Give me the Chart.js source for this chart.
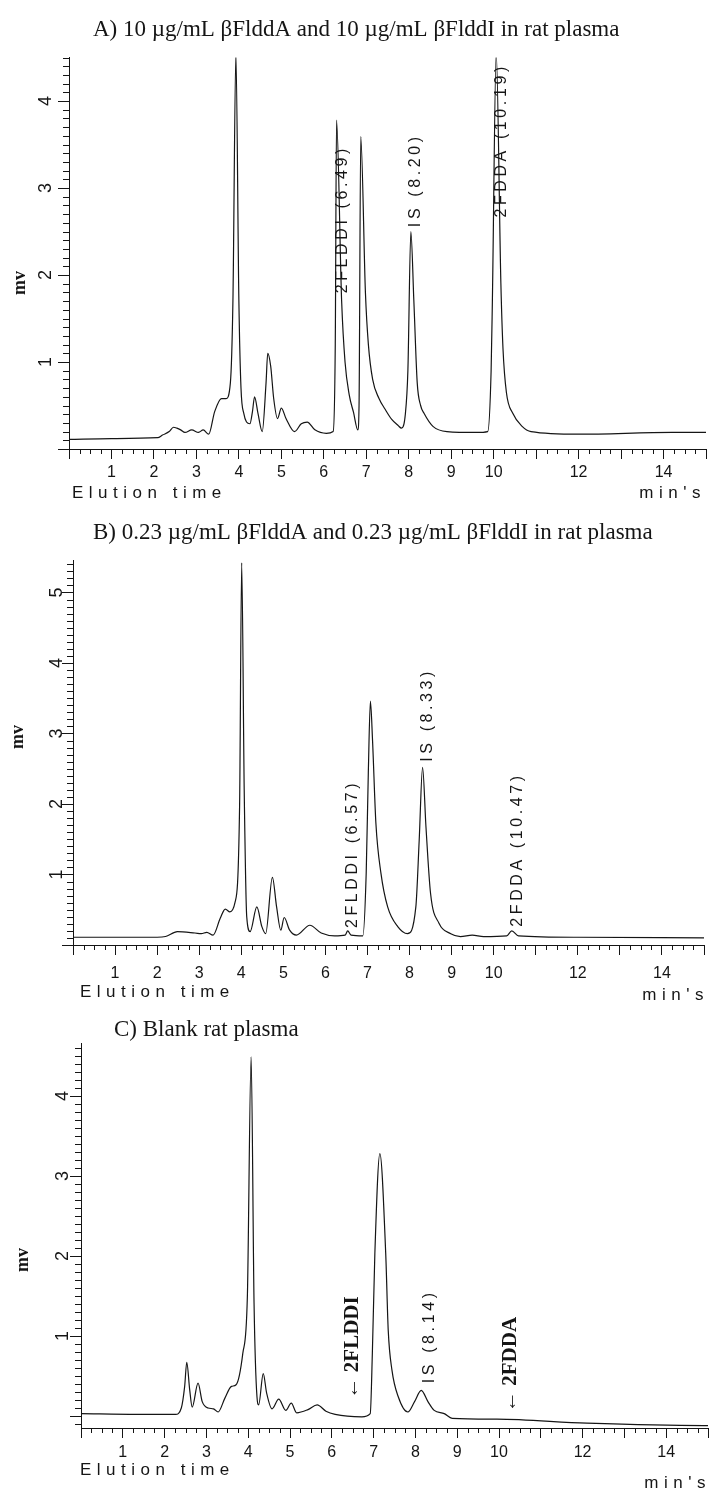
<!DOCTYPE html>
<html>
<head>
<meta charset="utf-8">
<script src="https://cdn.jsdelivr.net/npm/chart.js@4.4.1/dist/chart.umd.min.js"></script>
<style>
  html, body { margin: 0; padding: 0; background: #fff; }
  #wrap { position: relative; width: 713px; height: 1491px; }
  canvas { position: absolute; left: 0; }
</style>
</head>
<body>
<div id="wrap">
  <canvas id="chartA" width="713" height="510" style="top:0px"></canvas>
  <canvas id="chartB" width="713" height="500" style="top:510px"></canvas>
  <canvas id="chartC" width="713" height="481" style="top:1010px"></canvas>
</div>
<script>
// tick labels
const xTickLabels = [1, 2, 3, 4, 5, 6, 7, 8, 9, 10, 12, 14];
const yTicksA = [1, 2, 3, 4];
const yTicksB = [1, 2, 3, 4, 5];
const yTicksC = [1, 2, 3, 4];

// A) 10 ug/mL - elution time (min) / signal (mV)
const timeA = [0, 1, 2.09, 2.2, 2.36, 2.46, 2.54, 2.63, 2.73, 2.89, 3.05, 3.16, 3.29, 3.43, 3.59, 3.7, 3.8, 3.86, 3.93, 4.0,
  4.05, 4.12, 4.18, 4.26, 4.32, 4.37, 4.45, 4.55, 4.64, 4.68, 4.75, 4.82, 4.91, 5.0, 5.11, 5.31, 5.47, 5.61, 5.79, 6.06,
  6.22, 6.27, 6.3, 6.42, 6.5, 6.6, 6.7, 6.8, 6.83, 6.87, 6.98, 7.05, 7.15, 7.3, 7.44, 7.6, 7.75, 7.83, 7.92, 7.98,
  8.05, 8.12, 8.2, 8.28, 8.36, 8.57, 8.9, 9.6, 9.86, 9.94, 9.97, 10.06, 10.17, 10.22, 10.3, 10.45, 10.67, 10.88, 12, 14.2, 15];
const mvA = [0.11, 0.12, 0.13, 0.16, 0.2, 0.25, 0.24, 0.22, 0.19, 0.22, 0.19, 0.22, 0.17, 0.43, 0.58, 0.58, 0.76, 1.7, 4.55, 1.71,
  0.7, 0.4, 0.31, 0.29, 0.43, 0.6, 0.41, 0.2, 0.76, 1.1, 0.95, 0.58, 0.35, 0.47, 0.35, 0.2, 0.29, 0.31, 0.22, 0.18,
  0.2, 1.2, 3.78, 1.7, 1.0, 0.62, 0.42, 0.22, 0.5, 3.59, 1.8, 1.2, 0.8, 0.58, 0.46, 0.34, 0.27, 0.24, 0.4, 0.9,
  2.5, 1.71, 0.76, 0.5, 0.41, 0.26, 0.2, 0.19, 0.2, 0.9, 1.71, 4.55, 1.9, 1.15, 0.65, 0.41, 0.26, 0.2, 0.17, 0.19, 0.19];

// B) 0.23 ug/mL
const timeB = [0, 2, 2.2, 2.48, 2.9, 3.05, 3.18, 3.33, 3.5, 3.62, 3.73, 3.85, 3.96, 4.01, 4.07, 4.13, 4.21, 4.37, 4.49, 4.58,
  4.74, 4.84, 4.94, 5.02, 5.15, 5.31, 5.63, 5.9, 6.22, 6.47, 6.53, 6.61, 6.89, 6.97, 7.02, 7.07, 7.12, 7.2, 7.32, 7.48,
  7.72, 7.95, 8.15, 8.23, 8.31, 8.39, 8.5, 8.7, 8.98, 9.21, 9.49, 9.76, 10.31, 10.43, 10.59, 12, 15];
const mvB = [0.11, 0.11, 0.12, 0.19, 0.17, 0.16, 0.18, 0.14, 0.38, 0.51, 0.47, 0.6, 1.96, 5.42, 2.2, 0.4, 0.19, 0.54, 0.26, 0.16,
  0.96, 0.54, 0.21, 0.39, 0.21, 0.14, 0.28, 0.17, 0.13, 0.14, 0.2, 0.14, 0.13, 1.02, 2.44, 3.46, 2.91, 1.73, 1.02, 0.54,
  0.26, 0.16, 0.54, 1.49, 2.52, 1.68, 0.73, 0.31, 0.16, 0.12, 0.14, 0.12, 0.13, 0.2, 0.13, 0.11, 0.1];

// C) blank plasma
const timeC = [0, 1.34, 2.26, 2.4, 2.48, 2.53, 2.6, 2.66, 2.8, 2.9, 3.04, 3.17, 3.28, 3.44, 3.6, 3.71, 3.87, 3.98, 4.07, 4.14,
  4.21, 4.25, 4.36, 4.44, 4.57, 4.73, 4.9, 5.03, 5.16, 5.43, 5.65, 5.86, 6.08, 6.72, 6.92, 6.97, 7.03, 7.15, 7.29, 7.35,
  7.44, 7.59, 7.82, 7.98, 8.14, 8.3, 8.45, 8.69, 8.88, 9.95, 12.1, 14.9, 15];
const mvC = [0.03, 0.02, 0.02, 0.1, 0.37, 0.67, 0.33, 0.11, 0.41, 0.18, 0.1, 0.09, 0.05, 0.22, 0.37, 0.39, 0.78, 1.49, 4.49, 1.41,
  0.24, 0.14, 0.53, 0.29, 0.09, 0.21, 0.07, 0.16, 0.04, 0.08, 0.14, 0.06, 0.02, -0.01, 0.03, 0.78, 2.03, 3.28, 2.03, 1.07,
  0.57, 0.24, 0.05, 0.18, 0.32, 0.18, 0.07, 0.03, -0.03, -0.04, -0.09, -0.12, -0.12];

const peakNamesA = ["2FLDDI (6.49)", "IS (8.20)", "2FDDA (10.19)"];
const peakNamesB = ["2FLDDI (6.57)", "IS (8.33)", "2FDDA (10.47)"];
const peakNamesC = ["\u2190 2FLDDI", "IS (8.14)", "\u2190 2FDDA"];

const INK = "#151515";
const plotFont = "Liberation Sans";

function rotText(ctx, text, x, y, font, spacing, align) {
  ctx.save();
  ctx.translate(x, y);
  ctx.rotate(-Math.PI / 2);
  ctx.font = font;
  ctx.letterSpacing = spacing + "px";
  ctx.textAlign = align;
  ctx.textBaseline = "middle";
  ctx.fillText(text, 0, 0);
  ctx.restore();
}

const decoPlugin = {
  id: "deco",
  afterDraw(chart, args, o) {
    const ctx = chart.ctx;
    const xs = chart.scales.x;
    const ys = chart.scales.y;
    const area = chart.chartArea;
    ctx.save();
    ctx.strokeStyle = INK;
    ctx.fillStyle = INK;
    ctx.lineWidth = 1;

    // minor ticks
    ctx.beginPath();
    for (let i = 1; i < 60; i++) {
      if (i % 4 === 0) continue;
      const px = Math.round(xs.getPixelForValue(i / 4)) + 0.5;
      ctx.moveTo(px, area.bottom);
      ctx.lineTo(px, area.bottom + 5);
    }
    for (let k = Math.ceil(ys.min * 10); k <= Math.floor(ys.max * 10); k++) {
      if (k % 10 === 0) continue;
      const py = Math.round(ys.getPixelForValue(k / 10)) + 0.5;
      ctx.moveTo(area.left - 6, py);
      ctx.lineTo(area.left, py);
    }
    ctx.stroke();

    // rotated y tick labels
    o.yTicks.forEach((v) => {
      rotText(ctx, String(v), area.left - o.yLabelGap, ys.getPixelForValue(v), "18px " + plotFont, 0, "center");
    });

    // peak labels
    o.peaks.forEach((p, i) => {
      const font = p.bold ? "bold 21px 'Liberation Serif'" : "16px " + plotFont;
      rotText(ctx, o.names[i], xs.getPixelForValue(p.t), ys.getPixelForValue(p.v), font, p.bold ? 0 : 3.6, "left");
    });

    // titles and axis captions
    ctx.font = "23px 'Liberation Serif'";
    ctx.letterSpacing = "0px";
    ctx.textAlign = "left";
    ctx.textBaseline = "middle";
    ctx.fillText(o.title, o.titleX, o.titleY);
    rotText(ctx, "mv", o.mvX, o.mvY, "bold 18px 'Liberation Serif'", 0, "center");
    ctx.font = "17px " + plotFont;
    ctx.letterSpacing = "5.5px";
    ctx.textAlign = "left";
    ctx.fillText("Elution time", o.elX, o.elY);
    ctx.textAlign = "right";
    ctx.fillText("min's", o.minsX, o.minsY);
    ctx.restore();
  },
};

function makePanel(id, time, mv, p) {
  new Chart(document.getElementById(id), {
    type: "line",
    data: {
      datasets: [
        {
          data: time.map((t, i) => ({ x: t, y: mv[i] })),
          borderColor: INK,
          borderWidth: 1.2,
          pointRadius: 0,
          fill: false,
          cubicInterpolationMode: "monotone",
        },
      ],
    },
    options: {
      responsive: false,
      animation: false,
      devicePixelRatio: 1,
      layout: { padding: { top: p.top, right: p.right, left: 0, bottom: 0 } },
      plugins: {
        legend: { display: false },
        tooltip: { enabled: false },
        deco: p.deco,
      },
      scales: {
        x: {
          type: "linear",
          min: 0,
          max: 15,
          afterBuildTicks: (s) => {
            s.ticks = [0, 1, 2, 3, 4, 5, 6, 7, 8, 9, 10, 11, 12, 13, 14, 15].map((v) => ({ value: v }));
          },
          ticks: {
            autoSkip: false,
            maxRotation: 0,
            padding: p.tickPad,
            color: INK,
            font: { family: plotFont, size: 16 },
            callback: (v) => (xTickLabels.includes(v) ? String(v) : ""),
          },
          grid: { drawOnChartArea: false, tickLength: 10, color: INK },
          border: { color: INK, width: 1 },
          afterFit: (s) => {
            s.height = p.xAxisH;
          },
        },
        y: {
          min: p.yMin,
          max: p.yMax,
          afterBuildTicks: (s) => {
            s.ticks = [0, ...p.deco.yTicks].map((v) => ({ value: v }));
          },
          ticks: { display: false },
          grid: { drawOnChartArea: false, tickLength: 11, color: INK },
          border: { color: INK, width: 1 },
          afterFit: (s) => {
            s.width = p.left;
          },
        },
      },
    },
    plugins: [decoPlugin],
  });
}

makePanel("chartA", timeA, mvA, {
  top: 57.5, right: 7, left: 69, xAxisH: 61, tickPad: 4, yMin: 0, yMax: 4.5,
  deco: {
    yTicks: yTicksA, yLabelGap: 23, names: peakNamesA,
    peaks: [{ t: 6.45, v: 1.79 }, { t: 8.17, v: 2.55 }, { t: 10.18, v: 2.66 }],
    title: "A) 10 \u00b5g/mL \u03b2FlddA and 10 \u00b5g/mL \u03b2FlddI in rat plasma", titleX: 93, titleY: 30,
    mvX: 20, mvY: 283, elX: 72, elY: 493, minsX: 706, minsY: 493,
  },
});

makePanel("chartB", timeB, mvB, {
  top: 50.8, right: 2, left: 73, xAxisH: 65, tickPad: 9, yMin: 0, yMax: 5.45,
  deco: {
    yTicks: yTicksB, yLabelGap: 16, names: peakNamesB,
    peaks: [{ t: 6.64, v: 0.24 }, { t: 8.42, v: 2.6 }, { t: 10.57, v: 0.26 }],
    title: "B) 0.23 \u00b5g/mL \u03b2FlddA and 0.23 \u00b5g/mL \u03b2FlddI in rat plasma", titleX: 93, titleY: 23,
    mvX: 18, mvY: 227, elX: 80, elY: 482, minsX: 709, minsY: 485,
  },
});

makePanel("chartC", timeC, mvC, {
  top: 33.2, right: 1, left: 81, xAxisH: 63, tickPad: 5, yMin: -0.15, yMax: 4.66,
  deco: {
    yTicks: yTicksC, yLabelGap: 18, names: peakNamesC,
    peaks: [{ t: 6.5, v: 0.22, bold: true }, { t: 8.34, v: 0.41 }, { t: 10.27, v: 0.05, bold: true }],
    title: "C) Blank rat plasma", titleX: 114, titleY: 20,
    mvX: 23, mvY: 250, elX: 80, elY: 460, minsX: 711, minsY: 473,
  },
});
</script>
</body>
</html>
